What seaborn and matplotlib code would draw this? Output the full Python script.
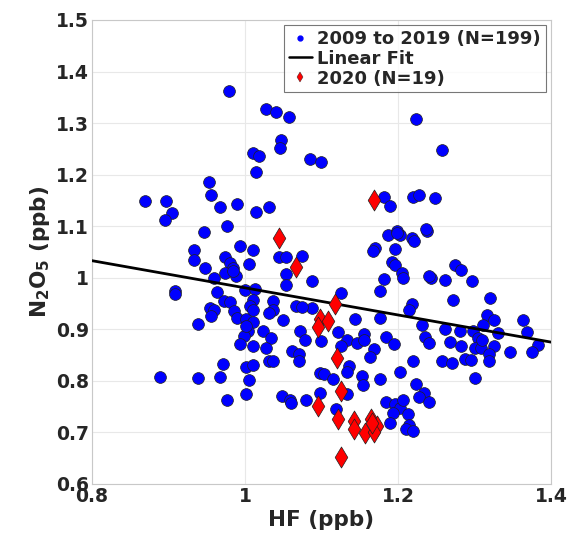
import numpy as np
import pandas as pd
import matplotlib
matplotlib.use('Agg')
import matplotlib.pyplot as plt
import seaborn as sns
from matplotlib.lines import Line2D

# 1. DADOS =====================================================================

hf_old = [0.870, 0.897, 0.905, 0.896, 0.979, 0.953, 0.956, 0.967, 0.990, 1.014,
          1.032, 0.976, 0.947, 0.993, 1.011, 0.934, 0.934, 1.027, 1.041, 1.057,
          1.047, 1.046, 1.010, 1.018, 1.014, 1.085, 1.100, 1.044, 1.053, 1.075,
          0.974, 0.980, 0.985, 0.974, 0.988, 0.948, 0.959, 1.005, 0.908, 0.908,
          0.963, 0.972, 0.981, 0.954, 0.959, 0.956, 0.986, 0.989, 1.000, 1.013,
          1.011, 1.006, 1.001, 1.011, 1.004, 0.999, 0.993, 1.010, 1.024, 1.034,
          1.027, 1.037, 1.036, 1.031, 1.050, 1.067, 1.088, 1.087, 1.054, 1.054,
          1.072, 1.079, 1.061, 1.070, 1.071, 1.031, 1.036, 0.971, 1.001, 1.010,
          1.005, 0.889, 0.939, 0.967, 1.001, 0.977, 1.049, 1.059, 1.060, 1.080,
          0.939, 1.126, 1.144, 1.099, 1.121, 1.133, 1.125, 1.146, 1.136, 1.133,
          1.098, 1.103, 1.115, 1.098, 1.119, 1.187, 1.203, 1.218, 1.238, 1.170,
          1.167, 1.196, 1.192, 1.196, 1.205, 1.206, 1.182, 1.177, 1.243, 1.261,
          1.275, 1.272, 1.218, 1.215, 1.176, 1.232, 1.261, 1.156, 1.184, 1.195,
          1.235, 1.240, 1.268, 1.168, 1.164, 1.219, 1.258, 1.270, 1.203, 1.153,
          1.154, 1.176, 1.224, 1.234, 1.227, 1.240, 1.184, 1.196, 1.203, 1.194,
          1.213, 1.282, 1.297, 1.320, 1.316, 1.325, 1.311, 1.363, 1.369, 1.281,
          1.298, 1.331, 1.305, 1.283, 1.301, 1.309, 1.325, 1.383, 1.375, 1.319,
          1.319, 1.346, 1.288, 1.295, 1.301, 1.133, 1.189, 1.215, 1.211, 1.220,
          1.224, 1.258, 1.182, 1.190, 1.220, 1.227, 1.248, 1.199, 1.221, 1.236,
          1.002, 1.011, 1.074, 1.310, 1.206, 1.199, 0.984, 1.240, 1.155]
n2o5_old = [1.149, 1.149, 1.126, 1.112, 1.363, 1.185, 1.161, 1.138, 1.143, 1.127,
            1.137, 1.100, 1.088, 1.061, 1.053, 1.054, 1.034, 1.327, 1.321, 1.311,
            1.267, 1.252, 1.241, 1.236, 1.206, 1.230, 1.224, 1.040, 1.040, 1.043,
            1.040, 1.028, 1.019, 1.010, 1.004, 1.019, 0.999, 1.027, 0.975, 0.968,
            0.972, 0.954, 0.953, 0.941, 0.937, 0.925, 0.936, 0.922, 0.977, 0.978,
            0.957, 0.946, 0.919, 0.914, 0.896, 0.886, 0.872, 0.868, 0.896, 0.883,
            0.863, 0.955, 0.937, 0.932, 0.917, 0.945, 0.942, 0.993, 1.008, 0.986,
            0.897, 0.879, 0.857, 0.851, 0.838, 0.839, 0.839, 0.832, 0.827, 0.830,
            0.801, 0.807, 0.805, 0.807, 0.774, 0.762, 0.770, 0.762, 0.756, 0.763,
            0.911, 0.970, 0.919, 0.878, 0.894, 0.880, 0.868, 0.874, 0.828, 0.817,
            0.816, 0.814, 0.804, 0.777, 0.745, 1.083, 1.083, 1.077, 1.090, 1.057,
            1.051, 1.055, 1.030, 1.025, 1.010, 0.999, 0.998, 0.975, 0.999, 0.995,
            1.025, 0.956, 0.948, 0.938, 0.922, 0.909, 0.901, 0.890, 0.885, 0.871,
            0.885, 0.874, 0.875, 0.862, 0.847, 0.838, 0.838, 0.834, 0.817, 0.810,
            0.792, 0.803, 0.794, 0.776, 0.768, 0.758, 0.758, 0.754, 0.748, 0.738,
            0.735, 1.014, 0.994, 0.961, 0.928, 0.917, 0.909, 0.917, 0.894, 0.896,
            0.896, 0.893, 0.883, 0.868, 0.864, 0.863, 0.867, 0.870, 0.856, 0.852,
            0.839, 0.855, 0.843, 0.840, 0.805, 0.774, 0.719, 0.715, 0.706, 0.703,
            1.307, 1.248, 1.156, 1.139, 1.157, 1.161, 1.155, 1.091, 1.071, 1.095,
            0.906, 0.938, 0.944, 0.880, 0.763, 1.086, 1.013, 1.003, 0.880]

hf_2020 = [1.044, 1.067, 1.118, 1.098, 1.108, 1.096, 1.120, 1.126, 1.096, 1.122,
           1.143, 1.143, 1.165, 1.172, 1.157, 1.168, 1.126, 1.169, 1.166]
n2o5_2020 = [1.077, 1.021, 0.948, 0.920, 0.915, 0.905, 0.845, 0.781, 0.751, 0.725,
             0.722, 0.707, 0.725, 0.712, 0.699, 0.701, 0.652, 1.151, 0.718]

fit_x = [0.8, 1.4]
fit_y = [1.033, 0.875]

label_old = '2009 to 2019 (N=199)'
label_fit = 'Linear Fit'
label_2020 = '2020 (N=19)'

# 2. FIGURA ====================================================================

sns.set_style('white')
plt.rcParams['font.family'] = ['DejaVu Sans']
plt.rcParams['font.weight'] = 'bold'

df_old = pd.DataFrame({'HF': hf_old, 'N2O5': n2o5_old})
df_new = pd.DataFrame({'HF': hf_2020, 'N2O5': n2o5_2020})

fig = plt.figure(figsize=(5.71, 5.40), dpi=100)
ax = fig.add_axes([0.161, 0.104, 0.804, 0.859])

sns.scatterplot(data=df_old, x='HF', y='N2O5', ax=ax, color='#0000ff', marker='o',
                s=72, edgecolor='#202020', linewidth=0.5, zorder=2)
ax.plot(fit_x, fit_y, color='black', lw=2, zorder=3)
sns.scatterplot(data=df_new, x='HF', y='N2O5', ax=ax, color='#ff0000', marker='d',
                s=115, edgecolor='#202020', linewidth=0.5, zorder=4)

ax.set_xlim(0.8, 1.4)
ax.set_ylim(0.6, 1.5)
ax.set_xticks([0.8, 1.0, 1.2, 1.4])
ax.set_xticklabels(['0.8', '1', '1.2', '1.4'])
ax.set_yticks(np.arange(0.6, 1.51, 0.1))
ax.set_yticklabels(['0.6', '0.7', '0.8', '0.9', '1', '1.1', '1.2', '1.3', '1.4', '1.5'])
ax.grid(True, color='#e8e8e8', lw=0.8, zorder=0)
ax.set_axisbelow(True)
for sp in ax.spines.values():
    sp.set_color('#c8c8c8')
    sp.set_linewidth(0.8)
ax.tick_params(axis='both', labelsize=13.5, direction='in', length=3, color='#c8c8c8',
               pad=2, labelcolor='#262626')
for t in ax.get_xticklabels() + ax.get_yticklabels():
    t.set_fontweight('bold')

ax.set_xlabel('HF (ppb)', fontsize=15.5, fontweight='bold', labelpad=3, color='#262626')
ax.set_ylabel(r'N$_\mathbf{2}$O$_\mathbf{5}$ (ppb)', fontsize=15.5, fontweight='bold',
              labelpad=3, color='#262626')

handles = [
    Line2D([], [], ls='none', marker='o', ms=3.5, mfc='#0000ff', mec='#0000ff'),
    Line2D([], [], color='black', lw=1.8),
    Line2D([], [], ls='none', marker='d', ms=5, mfc='#ff0000', mec='#202020', mew=0.3),
]
leg = ax.legend(handles, [label_old, label_fit, label_2020], loc='upper right',
                prop={'weight': 'bold', 'size': 13}, frameon=True,
                fancybox=False, edgecolor='#555555', handlelength=1.3,
                handletextpad=0.3, borderpad=0.25, labelspacing=0.1,
                borderaxespad=0.3)
leg.get_frame().set_linewidth(0.8)

fig.savefig('out.png', dpi=100)
